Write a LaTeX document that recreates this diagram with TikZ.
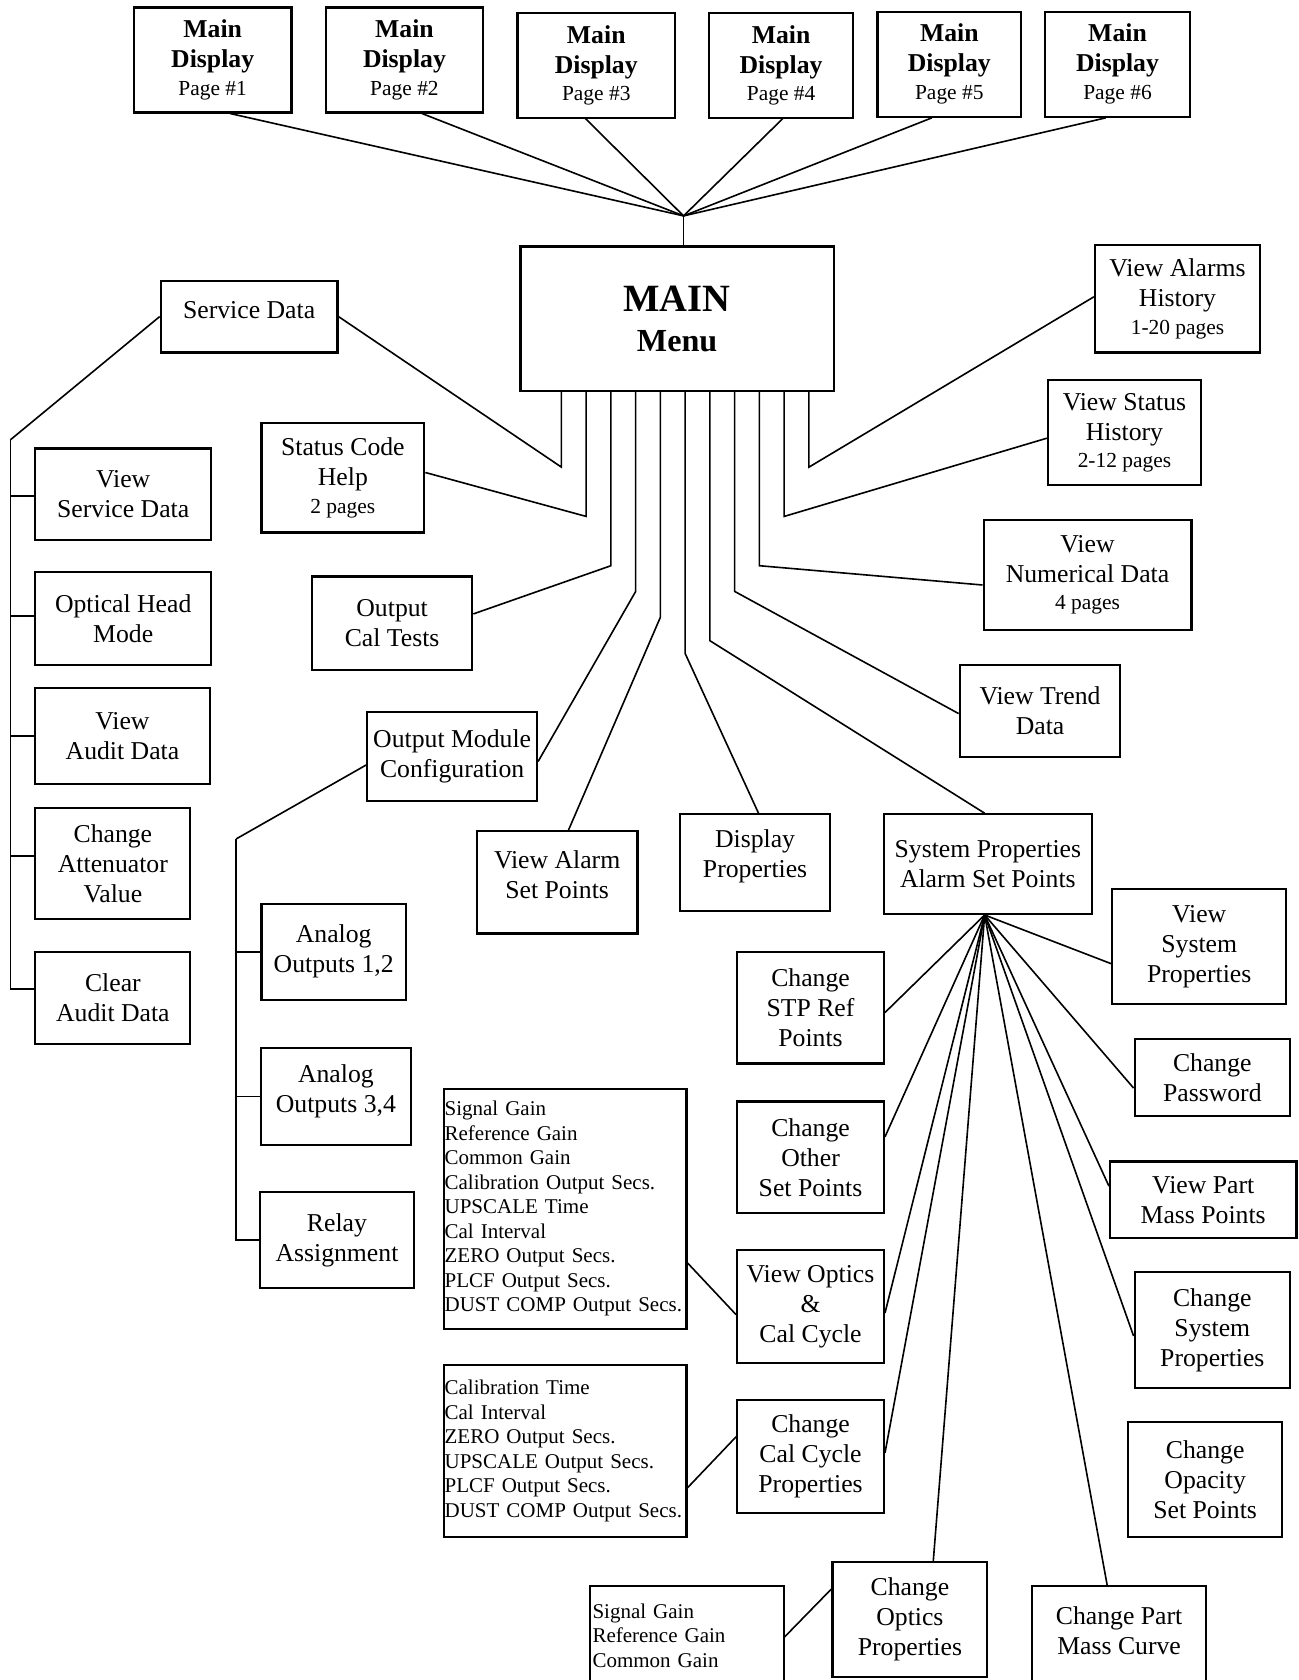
\documentclass[tikz,border=0pt]{standalone}
\usepackage{fontspec}
\setmainfont{Liberation Serif}
\newcommand{\subtxt}[1]{{\fontsize{10}{12}\selectfont #1}}
\tikzset{
  wh/.style 2 args={minimum width=#1,minimum height=#2},
  box/.style={draw,line width=1pt},
  list/.style={draw,line width=1pt,align=left,inner xsep=0.5pt,font=\fontsize{9.8}{11.43}\selectfont}
}

\begin{document}
\begin{tikzpicture}[x=0.5pt,y=-0.5pt,line width=0.75pt,
  every node/.style={font=\fontsize{12}{14}\selectfont,inner sep=1pt,align=center}]
  \useasboundingbox (0,0) rectangle (1212,1568);
  \fill[white] (0,0) rectangle (1212,1568);

  % display pages
  \node[box,wh={73.5pt}{49pt}]   (MD1) at (198.5,56) {\textbf{Main}\\\textbf{Display}\\[-1pt]\subtxt{Page \#1}};
  \node[box,wh={73.5pt}{49pt}]   (MD2) at (377.5,56) {\textbf{Main}\\\textbf{Display}\\[-1pt]\subtxt{Page \#2}};
  \node[box,wh={73.5pt}{48.75pt}] (MD3) at (556.5,61) {\textbf{Main}\\\textbf{Display}\\[-1pt]\subtxt{Page \#3}};
  \node[box,wh={67pt}{48.75pt}]  (MD4) at (729,61)   {\textbf{Main}\\\textbf{Display}\\[-1pt]\subtxt{Page \#4}};
  \node[box,wh={67pt}{49pt}]     (MD5) at (886,60)   {\textbf{Main}\\\textbf{Display}\\[-1pt]\subtxt{Page \#5}};
  \node[box,wh={67.5pt}{49pt}]   (MD6) at (1043,60)  {\textbf{Main}\\\textbf{Display}\\[-1pt]\subtxt{Page \#6}};

  \node[box,wh={146.25pt}{67.5pt}] (Main) at (632,297.5)
    {{\fontsize{18}{20}\selectfont\bfseries MAIN}\\[4.5pt]{\fontsize{15}{18}\selectfont\bfseries Menu}};

  % first level
  \node[box,wh={82.5pt}{33.5pt},text depth=6pt] (SD) at (232.5,295.5) {Service Data};
  \node[box,wh={76pt}{51pt}]      (SCH)   at (320,446)      {Status Code\\Help\\[-1pt]\subtxt{2 pages}};
  \node[box,wh={74.75pt}{43.5pt}] (OCT)   at (366,581.5)    {Output\\Cal Tests};
  \node[box,wh={79.25pt}{41.75pt}] (OMC)  at (422,706)      {Output Module\\Configuration};
  \node[box,wh={75pt}{47.75pt},text depth=7.2pt] (VASP) at (520,823.5) {View Alarm\\Set Points};
  \node[box,wh={70.25pt}{45pt},text depth=8.6pt] (DP) at (704.75,805) {Display\\Properties};
  \node[box,wh={97pt}{46.5pt}]    (SPASP) at (922,806.5)    {System Properties\\Alarm Set Points};
  \node[box,wh={75pt}{43pt}]      (VTD)   at (970.7,663.5)  {View Trend\\Data};
  \node[box,wh={97pt}{51.5pt}]    (VND)   at (1015,536.5)   {View\\Numerical Data\\[-1pt]\subtxt{4 pages}};
  \node[box,wh={71.5pt}{49pt}]    (VSH)   at (1049.5,404)   {View Status\\History\\[-1pt]\subtxt{2-12 pages}};
  \node[box,wh={77pt}{50pt}]      (VAH)   at (1099,279)     {View Alarms\\History\\[-1pt]\subtxt{1-20 pages}};

  % service data
  \node[box,wh={82pt}{42.7pt}]    (VSD) at (115,461.3)    {View\\Service Data};
  \node[box,wh={82pt}{43.25pt}]   (OHM) at (115,577.25)   {Optical Head\\Mode};
  \node[box,wh={81.3pt}{44.65pt}] (VAD) at (114.3,687)    {View\\Audit Data};
  \node[box,wh={72.35pt}{51.75pt}] (CAV) at (105.35,805.75) {Change\\Attenuator\\Value};
  \node[box,wh={72.35pt}{42.75pt}] (CAD) at (105.35,931.25) {Clear\\Audit Data};

  % output module
  \node[box,wh={67.5pt}{44.75pt}] (AO12) at (311.5,888.25)  {Analog\\Outputs 1,2};
  \node[box,wh={70pt}{45pt},text depth=7.1pt] (AO34) at (313.5,1023.35) {Analog\\Outputs 3,4};
  \node[box,wh={71.5pt}{44.5pt}]  (RA)   at (314.5,1157.4)  {Relay\\Assignment};

  % lists
  \node[list,text width=112.35pt,wh={113.35pt}{112.15pt}] (OpticsList) at (527.35,1128.15)
    {Signal Gain\\Reference Gain\\Common Gain\\Calibration Output Secs.\\UPSCALE Time\\Cal Interval\\ZERO Output Secs.\\PLCF Output Secs.\\DUST COMP Output Secs.};
  \node[list,text width=112.35pt,wh={113.35pt}{80.5pt}] (CalList) at (527.35,1354.15)
    {Calibration Time\\Cal Interval\\ZERO Output Secs.\\UPSCALE Output Secs.\\PLCF Output Secs.\\DUST COMP Output Secs.};
  \node[list,draw=none,text width=88.25pt,wh={89.25pt}{45.4pt}] (GainList) at (641.25,1526.4)
    {Signal Gain\\Reference Gain\\Common Gain};

  % system properties
  \node[box,wh={68.5pt}{52pt}]    (CSTP)  at (756.5,940.6)   {Change\\STP Ref\\Points};
  \node[box,wh={68.5pt}{52.2pt}]  (COSP)  at (756.5,1080.2)  {Change\\Other\\Set Points};
  \node[box,wh={68.5pt}{52.5pt}]  (VOCC)  at (756.5,1219.5)  {View Optics\\\&\\Cal Cycle};
  \node[box,wh={68.5pt}{52.5pt}]  (CCCP)  at (756.5,1359.5)  {Change\\Cal Cycle\\Properties};
  \node[box,wh={72.25pt}{53.5pt}] (COP)   at (849.25,1511.5) {Change\\Optics\\Properties};
  \node[wh={80.5pt}{41pt}]        (CPMC)  at (1044.5,1522)   {Change Part\\Mass Curve};
  \node[box,wh={81.25pt}{53.5pt}] (VSP)   at (1119.25,883.4) {View\\System\\Properties};
  \node[box,wh={72.5pt}{35.8pt}]  (CPW)   at (1131.5,1005.5) {Change\\Password};
  \node[box,wh={87pt}{35.85pt}]   (VPMP)  at (1123,1119.85)  {View Part\\Mass Points};
  \node[box,wh={72.5pt}{54pt}]    (CSP)   at (1131.5,1241.35) {Change\\System\\Properties};
  \node[box,wh={71.8pt}{53.65pt}] (COPSP) at (1124.8,1381)   {Change\\Opacity\\Set Points};

  % boxes cut by the page edge
  \draw[line width=1pt] ([yshift=-30pt]GainList.south west) |- (GainList.north east) -- ([yshift=-30pt]GainList.south east);
  \draw[line width=1pt] ([yshift=-30pt]CPMC.south west) |- (CPMC.north east) -- ([yshift=-30pt]CPMC.south east);

  % pages to menu
  \coordinate (hub) at (638,201.5);
  \foreach \n/\dx in {1/8.25pt,2/8.25pt,3/-5pt,4/0.75pt,5/-8.15pt,6/-5.5pt}
    \draw ([xshift=\dx]MD\n.south) -- (hub);
  \draw (hub) -- (hub |- Main.north);

  % menu to first level
  \draw ([xshift=-54pt]Main.south)    -- ++(0,70)  -- (SD.east);
  \draw ([xshift=-42.45pt]Main.south) -- ++(0,116) -- ([yshift=2.5pt]SCH.east);
  \draw ([xshift=-30.9pt]Main.south)  -- ++(0,162) -- ([yshift=4.25pt]OCT.east);
  \draw ([xshift=-19.35pt]Main.south) -- ++(0,186) -- ([yshift=-2.35pt]OMC.east);
  \draw ([xshift=-7.8pt]Main.south)   -- ++(0,210) -- ([xshift=5.3pt]VASP.north);
  \draw ([xshift=3.75pt]Main.south)   -- ++(0,244) -- ([xshift=1.6pt]DP.north);
  \draw ([xshift=15.3pt]Main.south)   -- ++(0,232) -- ([xshift=-1.5pt]SPASP.north);
  \draw ([xshift=26.85pt]Main.south)  -- ++(0,186) -- ([yshift=-1.25pt]VTD.west);
  \draw ([xshift=38.4pt]Main.south)   -- ++(0,162) -- ([yshift=-4.75pt]VND.west);
  \draw ([xshift=49.95pt]Main.south)  -- ++(0,116) -- ([yshift=-2.5pt]VSH.west);
  \draw ([xshift=61.5pt]Main.south)   -- ++(0,70)  -- ([yshift=1pt]VAH.west);

  % service data bus
  \coordinate (svcbus) at (9.7,410.5);
  \draw (SD.west) -- (svcbus);
  \foreach \b/\dy in {VSD/-0.85pt,OHM/1.1pt,VAD/0pt,CAV/3.4pt,CAD/4.1pt}
    \draw ([yshift=\dy]\b.west) -| (svcbus);

  % output module bus
  \coordinate (outbus) at (220.4,783);
  \draw ([yshift=-4pt]OMC.west) -- (outbus);
  \foreach \b in {AO12,AO34,RA}
    \draw (\b.west) -| (outbus);

  % system properties fan
  \coordinate (fan) at ([xshift=-1.5pt]SPASP.south);
  \draw (fan) -- ([yshift=-2.2pt]CSTP.east);
  \draw (fan) -- ([yshift=9.6pt]COSP.east);
  \draw (fan) -- ([yshift=-2.95pt]VOCC.east);
  \draw (fan) -- ([yshift=1.75pt]CCCP.east);
  \draw (fan) -- ([xshift=10.9pt]COP.north);
  \draw (fan) -- ([xshift=-5.5pt]CPMC.north);
  \draw (fan) -- ([yshift=-2.8pt]CSP.west);
  \draw (fan) -- ([yshift=6.4pt]VPMP.west);
  \draw (fan) -- ([yshift=-5pt]CPW.west);
  \draw (fan) -- ([yshift=-8pt]VSP.west);

  % lists to their boxes
  \draw ([yshift=-25.3pt]OpticsList.east) -- ([yshift=-3.75pt]VOCC.west);
  \draw ([yshift=-17.2pt]CalList.east)    -- ([yshift=9.25pt]CCCP.west);
  \draw ([yshift=-1.1pt]GainList.east)    -- ([yshift=14.25pt]COP.west);
\end{tikzpicture}
\end{document}
